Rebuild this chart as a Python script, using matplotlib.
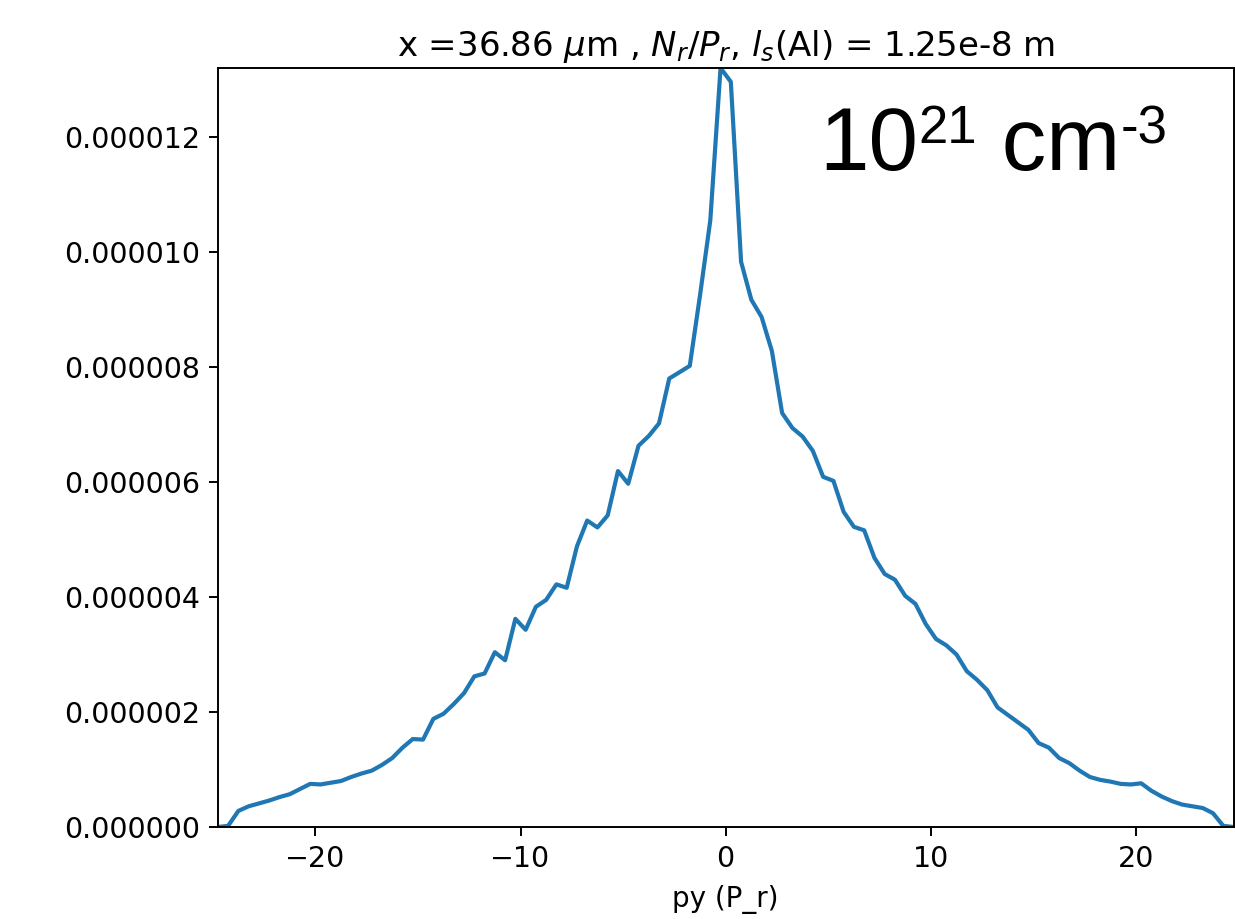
"""Momentum distribution along py for one slice of the simulation."""

import numpy as np
import matplotlib

matplotlib.use("Agg")
import matplotlib.pyplot as plt
from matplotlib.ticker import FormatStrFormatter

# bin centres of the py histogram (units of P_r)
py_centres = np.arange(-24.75, 25.0, 0.5)

# histogram values, in units of 1e-6
counts_left = [
    0.00, 0.02, 0.28, 0.36, 0.41, 0.46, 0.52, 0.57, 0.66, 0.75,
    0.74, 0.77, 0.80, 0.87, 0.93, 0.98, 1.08, 1.20, 1.38, 1.53,
    1.52, 1.88, 1.97, 2.14, 2.33, 2.62, 2.67, 3.04, 2.90, 3.62,
    3.43, 3.83, 3.95, 4.22, 4.16, 4.88, 5.33, 5.21, 5.42, 6.19,
    5.97, 6.63, 6.80, 7.02, 7.80, 7.91, 8.02, 9.25, 10.55, 13.20,
]
counts_right = [
    12.96, 9.83, 9.17, 8.87, 8.28, 7.20, 6.94, 6.79, 6.54, 6.09,
    6.02, 5.48, 5.22, 5.16, 4.68, 4.40, 4.30, 4.02, 3.88, 3.53,
    3.27, 3.16, 3.00, 2.71, 2.56, 2.38, 2.08, 1.95, 1.82, 1.69,
    1.46, 1.38, 1.20, 1.11, 0.98, 0.87, 0.82, 0.79, 0.75, 0.74,
    0.76, 0.63, 0.53, 0.45, 0.39, 0.36, 0.33, 0.24, 0.02, 0.00,
]
counts = np.array(counts_left + counts_right) * 1e-6

x_ticks = [-20, -10, 0, 10, 20]
y_ticks = [0, 2e-6, 4e-6, 6e-6, 8e-6, 10e-6, 12e-6]

title = r"x =36.86 $\mu$m , $N_r/P_r$, $l_s$(Al) = 1.25e-8 m"

fig = plt.figure(figsize=(12.35, 9.19), dpi=100)
ax = fig.add_axes([0.1764, 0.1001, 0.8224, 0.8259])

ax.plot(py_centres, counts, color="#1f77b4", linewidth=3.0)
ax.margins(0)
ax.set_xlim(py_centres[0], py_centres[-1])
ax.set_ylim(0, counts.max())

ax.set_xticks(x_ticks)
ax.set_yticks(y_ticks)
ax.yaxis.set_major_formatter(FormatStrFormatter("%.6f"))
ax.tick_params(labelsize=20.5, length=6.3, width=1.4, pad=6.3)
for spine in ax.spines.values():
    spine.set_linewidth(1.4)

ax.set_xlabel("py (P_r)", fontsize=20, labelpad=9)
ax.set_title(title, fontsize=24.5, pad=9)

# density label, assembled from pieces so the exponents sit like superscripts
big, small = 64, 38
base = ax.text(0.663, 0.815, "10", transform=fig.transFigure,
               fontsize=big, family="Liberation Sans", va="baseline")
sup1 = ax.annotate("21", xy=(1, 0), xycoords=base, xytext=(0.5, 33),
                   textcoords="offset points", fontsize=small,
                   family="Liberation Sans", va="baseline", annotation_clip=False)
unit = ax.annotate(" cm", xy=(1, 0), xycoords=(sup1, base), fontsize=big,
                   family="Liberation Sans", va="bottom", annotation_clip=False)
ax.annotate("-3", xy=(1, 0), xycoords=(unit, sup1), fontsize=small,
            family="Liberation Sans", va="bottom", annotation_clip=False)

fig.savefig("out.png", dpi=100)
